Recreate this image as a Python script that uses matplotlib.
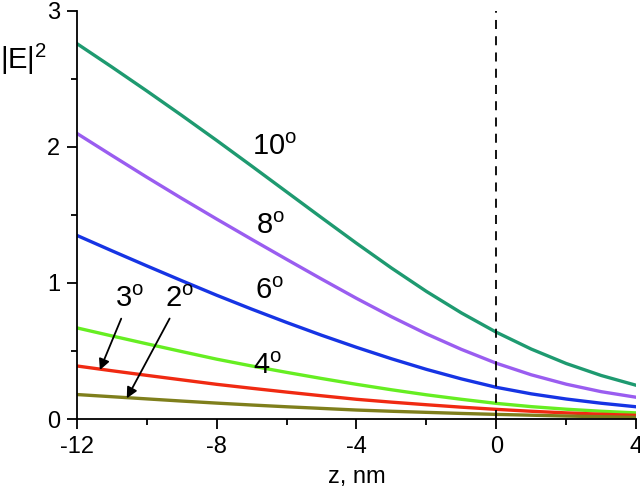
import matplotlib
matplotlib.use("Agg")
import matplotlib.pyplot as plt
import numpy as np

plt.rcParams['font.family'] = ['Liberation Sans', 'DejaVu Sans']
plt.rcParams['mathtext.fontset'] = 'custom'
plt.rcParams['mathtext.rm'] = 'Liberation Sans'
plt.rcParams['mathtext.it'] = 'Liberation Sans:italic'
plt.rcParams['axes.unicode_minus'] = False

# z positions, nm
z = [-12, -11, -10, -9, -8, -7, -6, -5, -4, -3, -2, -1, 0, 1, 2, 3, 4]

# |E|^2 for each angle
e10 = [2.76, 2.588, 2.412, 2.232, 2.048, 1.86, 1.67, 1.48, 1.292, 1.11, 0.938, 0.78, 0.638, 0.514, 0.408, 0.32, 0.248]
e8 = [2.10, 1.938, 1.778, 1.622, 1.47, 1.321, 1.174, 1.029, 0.887, 0.752, 0.626, 0.512, 0.41, 0.325, 0.256, 0.201, 0.16]
e6 = [1.35, 1.237, 1.126, 1.017, 0.91, 0.808, 0.71, 0.616, 0.527, 0.443, 0.365, 0.295, 0.233, 0.185, 0.147, 0.116, 0.09]
e4 = [0.67, 0.611, 0.553, 0.496, 0.44, 0.39, 0.343, 0.298, 0.255, 0.215, 0.178, 0.145, 0.115, 0.091, 0.072, 0.057, 0.045]
e3 = [0.39, 0.355, 0.321, 0.288, 0.255, 0.226, 0.198, 0.171, 0.145, 0.124, 0.105, 0.087, 0.071, 0.057, 0.045, 0.035, 0.027]
e2 = [0.18, 0.164, 0.148, 0.132, 0.117, 0.103, 0.09, 0.078, 0.066, 0.057, 0.049, 0.041, 0.034, 0.028, 0.022, 0.017, 0.012]

xticks = [-12, -8, -4, 0, 4]
yticks = [0, 1, 2, 3]


def main():
    fig = plt.figure(figsize=(6.4, 4.95), dpi=100)
    ax = fig.add_axes([0.120, 0.1535, 0.874, 0.8245])

    lw = 2.4
    ax.plot(z, e10, color='#1e9a70', lw=lw)
    ax.plot(z, e8, color='#9a5df0', lw=lw)
    ax.plot(z, e6, color='#1634e4', lw=lw)
    ax.plot(z, e4, color='#66ee22', lw=lw)
    ax.plot(z, e3, color='#f02a12', lw=lw)
    ax.plot(z, e2, color='#7f7f1c', lw=lw)

    ax.plot([0, 0], [0, 3], color='k', lw=1.3, ls=(0, (5, 4)))

    # curve labels
    fs = 21
    ax.text(-6.35, 2.0, r'10$^{\rm o}$', fontsize=fs, ha='center', va='center')
    ax.text(-6.45, 1.42, r'8$^{\rm o}$', fontsize=fs, ha='center', va='center')
    ax.text(-6.5, 0.94, r'6$^{\rm o}$', fontsize=fs, ha='center', va='center')
    ax.text(-6.55, 0.39, r'4$^{\rm o}$', fontsize=fs, ha='center', va='center')

    arrow = dict(arrowstyle='-|>', color='k', lw=1.3, mutation_scale=16,
                 shrinkA=2, shrinkB=0)
    ax.annotate(r'3$^{\rm o}$', xy=(-11.34, 0.36), xytext=(-10.5, 0.88),
                fontsize=fs, ha='center', va='center', arrowprops=arrow)
    ax.annotate(r'2$^{\rm o}$', xy=(-10.57, 0.152), xytext=(-9.05, 0.88),
                fontsize=fs, ha='center', va='center', arrowprops=arrow)

    ax.set_xlim(-12, 4)
    ax.set_ylim(0, 3)
    ax.set_xticks(xticks)
    ax.set_yticks(yticks)
    ax.set_xticks([-10, -6, -2, 2], minor=True)
    ax.set_yticks([0.5, 1.5, 2.5], minor=True)
    ax.tick_params(which='major', direction='out', length=7, width=1.3,
                   labelsize=17, pad=5)
    ax.tick_params(which='minor', direction='out', length=4, width=1.3)

    for s in ['top', 'right']:
        ax.spines[s].set_visible(False)
    for s in ['left', 'bottom']:
        ax.spines[s].set_linewidth(1.3)

    ax.set_xlabel('z, nm', fontsize=17, labelpad=6)
    fig.text(0.0, 0.88, r'|E|$^2$', fontsize=21, ha='left', va='center')

    fig.savefig('out.png', dpi=100)


if __name__ == "__main__":
    main()
